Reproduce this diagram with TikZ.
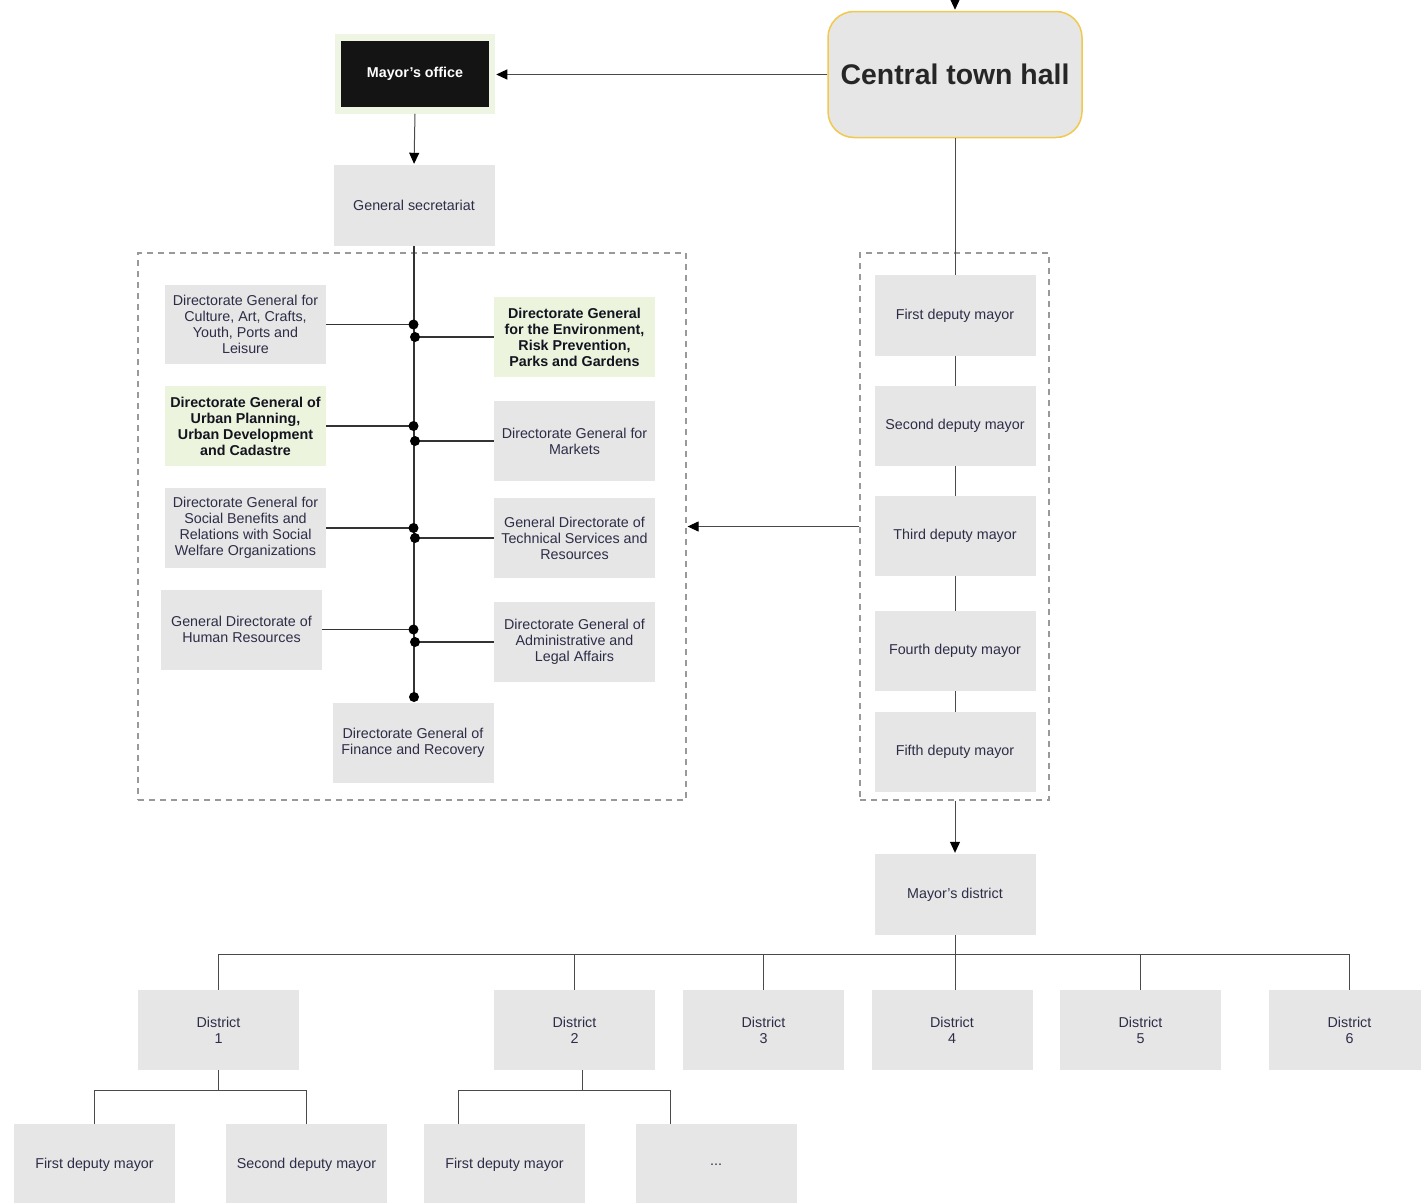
\documentclass[tikz,border=0pt]{standalone}
\usepackage{fontspec}
\setmainfont{Liberation Sans}
\usetikzlibrary{arrows.meta}
\definecolor{boxgray}{HTML}{E6E6E6}
\definecolor{boxgreen}{HTML}{ECF4DD}
\definecolor{mogreen}{HTML}{EEF5E2}
\definecolor{hallyellow}{HTML}{F0C94E}
\definecolor{txt}{HTML}{2D2D48}
\definecolor{txtbold}{HTML}{141420}
\definecolor{linecol}{HTML}{4A4A4A}
\definecolor{dashcol}{HTML}{999999}
\newcommand{\apos}{{\char"0027}}
\tikzset{
  orgbox/.style={fill=boxgray, draw=none, text=txt, align=center, inner sep=0pt,
    minimum width=161, minimum height=80, font=\fontsize{14.3}{16}\selectfont},
  greenbox/.style={orgbox, fill=boxgreen, text=txtbold, font=\fontsize{14.3}{16}\selectfont\bfseries},
  groupbox/.style={draw=dashcol, line width=1.2pt, dash pattern=on 6pt off 5pt, inner sep=0pt},
  conn/.style={draw=linecol, line width=1pt},
  trunk/.style={draw=black!80, line width=1.3pt},
  arr/.style={conn, -{Triangle[length=11pt,width=10pt,color=black,fill=black]}, shorten >=1pt},
  junction/.style={fill=black},
}
\begin{document}
\begin{tikzpicture}[x=1pt,y=-1pt]
\useasboundingbox (0,0) rectangle (1421,1202);
% top nodes
\node[fill=black!92, draw=mogreen, line width=6.5pt, minimum width=154, minimum height=73, inner sep=0pt,
  text=white, font=\fontsize{14.3}{16}\selectfont\bfseries] (mo) at (415,74) {Mayor\apos s office};
\node[fill=boxgray, draw=hallyellow, line width=1.5pt, rounded corners=26pt, minimum width=254,
  minimum height=126, inner sep=0pt, text=black!85, font=\fontsize{28.4}{32}\selectfont\bfseries] (cth) at (955,74.5) {Central town hall};
\coordinate (topin) at (955,-12);
\node[orgbox, minimum height=81] (gs) at (414,205.5) {General secretariat};
% groups
\node[groupbox, minimum width=548, minimum height=547] (leftgrp) at (412,526.5) {};
\node[groupbox, minimum width=189, minimum height=547] (rightgrp) at (954.5,526.5) {};
% left column
\node[orgbox, minimum height=79] (cult) at (245.5,324.5) {Directorate General for\\Culture, Art, Crafts,\\Youth, Ports and\\Leisure};
\node[greenbox] (urb) at (245.5,426) {Directorate General of\\Urban Planning,\\Urban Development\\and Cadastre};
\node[orgbox] (soc) at (245.5,528) {Directorate General for\\Social Benefits and\\Relations with Social\\Welfare Organizations};
\node[orgbox] (hr) at (241.5,629.5) {General Directorate of\\Human Resources};
% right column
\node[greenbox] (env) at (574.5,337) {Directorate General\\for the Environment,\\Risk Prevention,\\Parks and Gardens};
\node[orgbox] (mkt) at (574.5,441) {Directorate General for\\Markets};
\node[orgbox] (tech) at (574.5,538) {General Directorate of\\Technical Services and\\Resources};
\node[orgbox] (adm) at (574.5,642) {Directorate General of\\Administrative and\\Legal Affairs};
\node[orgbox] (fin) at (413,743) {Directorate General of\\Finance and Recovery};
% junctions
\coordinate (jc) at (413.5,324.5);
\coordinate (je) at (415,337);
\coordinate (ju) at (413.5,426);
\coordinate (jm) at (415,441);
\coordinate (js) at (413.5,528);
\coordinate (jt) at (415,538);
\coordinate (jh) at (413.5,629.5);
\coordinate (ja) at (415,642);
\coordinate (jf) at (414,697);
% deputies
\node[orgbox, minimum height=81] (d1) at (955,315.5) {First deputy mayor};
\node[orgbox] (d2) at (955,426) {Second deputy mayor};
\node[orgbox] (d3) at (955,536) {Third deputy mayor};
\node[orgbox] (d4) at (955,651) {Fourth deputy mayor};
\node[orgbox] (d5) at (955,752) {Fifth deputy mayor};
\node[orgbox, minimum height=81] (md) at (955,894.5) {Mayor\apos s district};
% districts
\node[orgbox] (D1) at (218.5,1030) {District\\1};
\node[orgbox] (D2) at (574.5,1030) {District\\2};
\node[orgbox] (D3) at (763.5,1030) {District\\3};
\node[orgbox] (D4) at (952,1030) {District\\4};
\node[orgbox] (D5) at (1140.5,1030) {District\\5};
\node[orgbox] (D6) at (1349.5,1030) {District\\6};
\coordinate (bus) at (0,954);
\coordinate (D4top) at (955,990);
% district deputies
\node[orgbox, minimum height=81] (a1) at (94.5,1164.5) {First deputy mayor};
\node[orgbox, minimum height=81] (a2) at (306.5,1164.5) {Second deputy mayor};
\node[orgbox, minimum height=81] (b1) at (504.5,1164.5) {First deputy mayor};
\node[orgbox, minimum height=81] (b2) at (716,1164.5) {...};
\coordinate (sub) at (0,1090);
\coordinate (D2bot) at (582,1070);
\coordinate (b1top) at (458,1124);
\coordinate (b2top) at (670,1124);
% connectors top
\draw[arr] (topin) -- (cth.north);
\draw[arr] (cth.west) -- (cth.west -| mo.east);
\draw[arr] (mo.south) -- (gs.north);
\draw[conn] (cth.south) -- (d1.north);
\draw[conn] (d1.south) -- (d2.north);
\draw[conn] (d2.south) -- (d3.north);
\draw[conn] (d3.south) -- (d4.north);
\draw[conn] (d4.south) -- (d5.north);
\draw[arr] (rightgrp.west) -- (leftgrp.east);
\draw[arr] (rightgrp.south -| md.north) -- (md.north);
% trunk and branches
\draw[trunk] (gs.south) -- (jf);
\draw[trunk] (cult.east) -- (jc);
\draw[trunk] (urb.east) -- (ju);
\draw[trunk] (soc.east) -- (js);
\draw[trunk] (hr.east) -- (jh);
\draw[trunk] (je) -- (env.west);
\draw[trunk] (jm) -- (mkt.west);
\draw[trunk] (jt) -- (tech.west);
\draw[trunk] (ja) -- (adm.west);
\foreach \j in {jc,je,ju,jm,js,jt,jh,ja,jf} \fill[junction] (\j) circle (5);
% district bus
\draw[conn] (md.south) -- (D4top);
\draw[conn] (D1.north) -- (D1.north |- bus) -- (D6.north |- bus) -- (D6.north);
\draw[conn] (D2.north |- bus) -- (D2.north);
\draw[conn] (D3.north |- bus) -- (D3.north);
\draw[conn] (D5.north |- bus) -- (D5.north);
% district 1 children
\draw[conn] (D1.south) -- (D1.south |- sub);
\draw[conn] (a1.north) -- (a1.north |- sub) -- (a2.north |- sub) -- (a2.north);
% district 2 children
\draw[conn] (D2bot) -- (D2bot |- sub);
\draw[conn] (b1top) -- (b1top |- sub) -- (b2top |- sub) -- (b2top);
\end{tikzpicture}
\end{document}
